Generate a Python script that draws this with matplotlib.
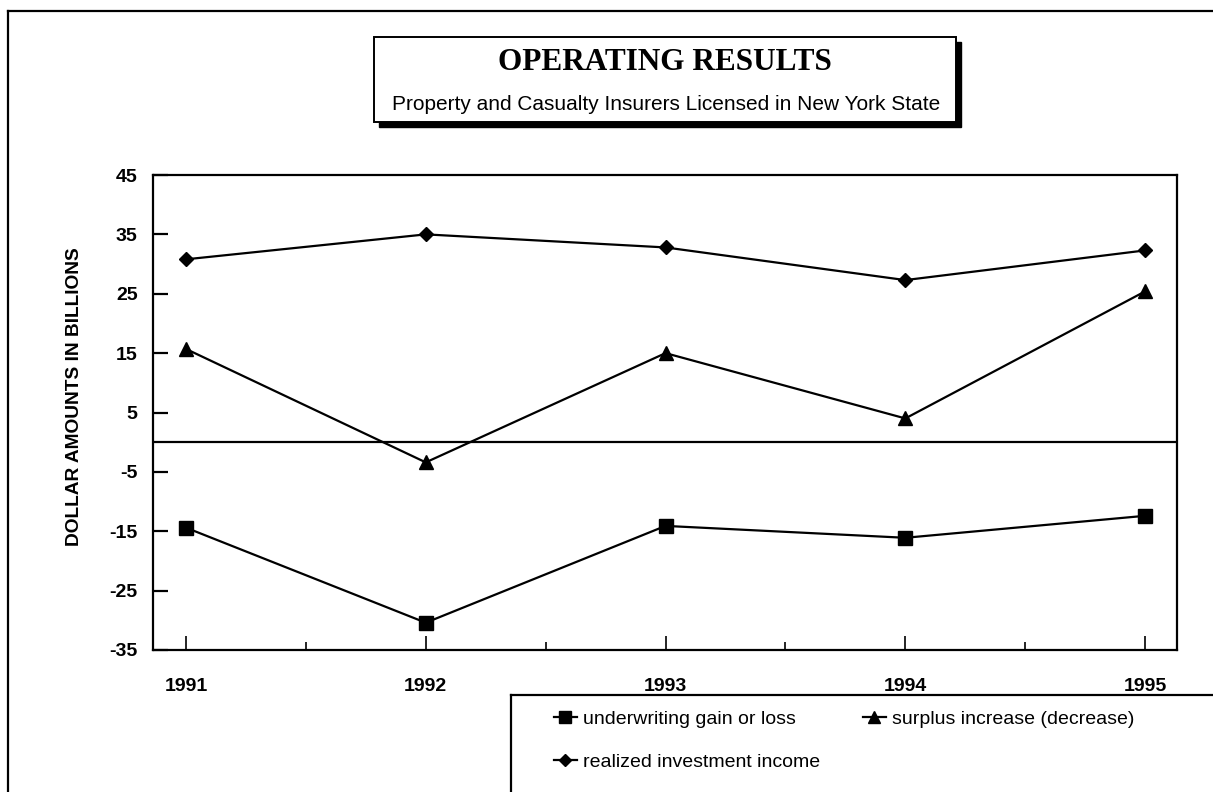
import matplotlib
matplotlib.use("Agg")
import matplotlib.pyplot as plt
from matplotlib import font_manager
from matplotlib.patches import Rectangle
from matplotlib.lines import Line2D
from matplotlib.ticker import FixedLocator

plt.rcParams["axes.unicode_minus"] = False

# ---- data (billions of dollars) ----
years = ["1991", "1992", "1993", "1994", "1995"]
underwriting = [-14.4, -30.4, -14.1, -16.1, -12.4]
surplus = [15.7, -3.4, 15.0, 4.0, 25.4]
investment = [30.8, 35.0, 32.8, 27.3, 32.3]
y_ticks = [-35, -25, -15, -5, 5, 15, 25, 35, 45]

title = "OPERATING RESULTS"
subtitle = "Property and Casualty Insurers Licensed in New York State"
ylabel = "DOLLAR AMOUNTS IN BILLIONS"
labels = ["underwriting gain or loss", "surplus increase (decrease)",
          "realized investment income"]

available = {f.name for f in font_manager.fontManager.ttflist}
narrow = "Liberation Sans Narrow" if "Liberation Sans Narrow" in available else "Liberation Sans"
serif = "Liberation Serif"

W, H, DPI = 1213, 792, 100
fig = plt.figure(figsize=(W / DPI, H / DPI), dpi=DPI)
fig.patch.set_facecolor("white")


def fx(px):
    return px / W


def fy(py):
    return 1 - py / H


# outer frame (runs off the right and bottom edges)
fig.add_artist(Line2D([fx(8), fx(8)], [fy(11), fy(800)], color="black", lw=1.6,
                      transform=fig.transFigure))
fig.add_artist(Line2D([fx(8), fx(1220)], [fy(11), fy(11)], color="black", lw=1.6,
                      transform=fig.transFigure))

# title box with drop shadow
bx0, by0, bx1, by1 = 374, 37, 956, 122
fig.add_artist(Rectangle((fx(bx0 + 5), fy(by1 + 5)), fx(bx1 - bx0), (by1 - by0) / H,
                         transform=fig.transFigure, facecolor="black", edgecolor="black"))
fig.add_artist(Rectangle((fx(bx0), fy(by1)), fx(bx1 - bx0), (by1 - by0) / H,
                         transform=fig.transFigure, facecolor="white", edgecolor="black",
                         lw=1.4))
fig.text(fx(665), fy(63), title, ha="center", va="center", family=serif,
         fontweight="bold", fontsize=22.5)
fig.text(fx(666), fy(105), subtitle, ha="center", va="center", family=narrow,
         fontsize=15)

# main axes
ax = fig.add_axes([fx(153), fy(650), fx(1177 - 153), (650 - 175) / H])
x = list(range(len(years)))
style = dict(color="black", lw=1.6)
l_under, = ax.plot(x, underwriting, marker="s", markersize=10, **style)
l_surp, = ax.plot(x, surplus, marker="^", markersize=10, **style)
l_inv, = ax.plot(x, investment, marker="D", markersize=7, **style)
ax.axhline(0, color="black", lw=1.6)

ax.set_xlim(-0.1375, 4.133)
ax.set_ylim(-35, 45)
ax.yaxis.set_major_locator(FixedLocator(y_ticks))
ax.set_xticks(x)
ax.set_xticklabels(years)
ax.xaxis.set_minor_locator(FixedLocator([0.5, 1.5, 2.5, 3.5]))

for s in ax.spines.values():
    s.set_linewidth(1.6)
ax.tick_params(axis="y", direction="in", length=11, width=1.6, pad=11)
ax.tick_params(axis="x", which="major", direction="in", length=10, width=1.2, pad=20)
ax.tick_params(axis="x", which="minor", direction="in", length=6, width=1.2)
for t in ax.get_yticklabels() + ax.get_xticklabels():
    t.set_family(narrow)
    t.set_fontweight("bold")
    t.set_fontsize(14)

fig.text(fx(75), fy(397), ylabel, rotation=90, ha="center", va="center",
         family=narrow, fontweight="bold", fontsize=13.8)

# legend box (runs off the right and bottom edges)
fig.add_artist(Line2D([fx(511), fx(511)], [fy(695), fy(800)], color="black", lw=1.6,
                      transform=fig.transFigure))
fig.add_artist(Line2D([fx(511), fx(1220)], [fy(695), fy(695)], color="black", lw=1.6,
                      transform=fig.transFigure))

fig.legend([l_under, l_inv, l_surp], [labels[0], labels[2], labels[1]], ncol=2,
           loc="upper left", bbox_to_anchor=(fx(536), fy(693)), frameon=False,
           prop={"family": narrow, "size": 14}, handlelength=1.2, handletextpad=0.3,
           labelspacing=1.3, columnspacing=2.2, markerscale=0.9)

fig.savefig("out.png", dpi=DPI)
